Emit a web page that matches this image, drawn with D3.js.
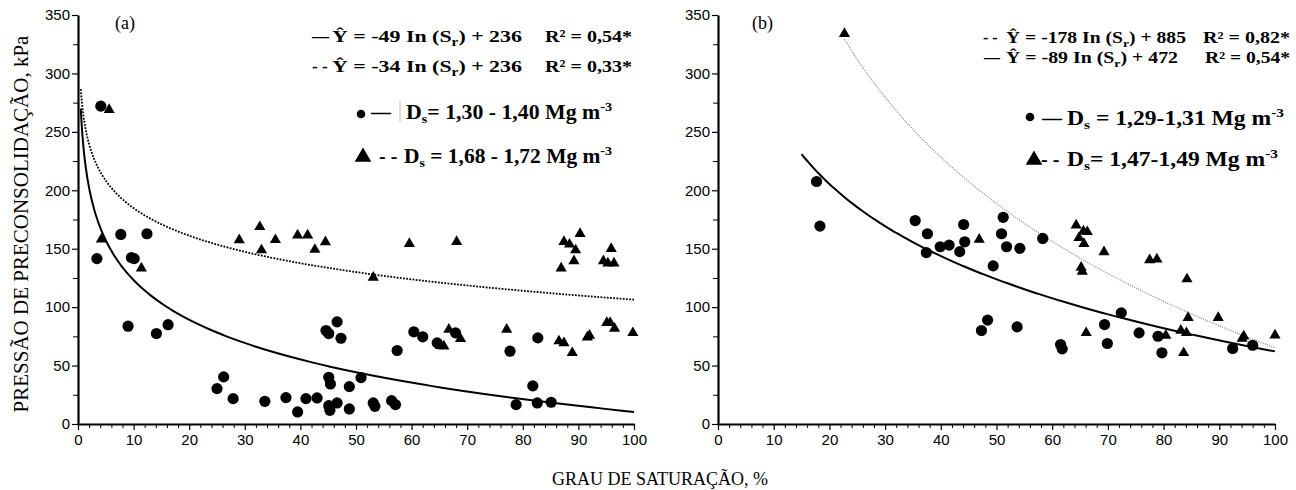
<!DOCTYPE html>
<html>
<head>
<meta charset="utf-8">
<script src="https://cdn.jsdelivr.net/npm/d3@7"></script>
<style>
  body { margin: 0; background: #fff; }
  svg { display: block; }
  .tick text { font-family: "Liberation Sans", Arial, sans-serif; font-size: 15px; fill: #000; }
  .serif { font-family: "Liberation Serif", "Times New Roman", serif; }
</style>
</head>
<body>
<svg id="chart"></svg>
<script>
const width = 1296;
const height = 490;

// tick labels
const xTickLabels = [0, 10, 20, 30, 40, 50, 60, 70, 80, 90, 100];
const yTickLabels = [0, 50, 100, 150, 200, 250, 300, 350];

// panel (a) - circles, Ds 1,30-1,40
const aCircleX = [4.1, 3.4, 7.7, 9.6, 10.1, 12.4, 9.0, 14.1, 16.2, 25.0, 26.2, 27.9, 33.6, 37.4, 39.5, 41.0, 43.0,
  44.6, 45.1, 45.1, 45.4, 45.1, 45.3, 46.6, 46.6, 47.3, 48.8, 48.8, 50.9, 53.1, 53.4, 56.4, 57.1, 57.4,
  60.4, 62.0, 64.6, 67.9, 77.7, 78.8, 81.8, 82.7, 82.6, 85.1];
const aCircleY = [272, 141.5, 162.2, 142.4, 141.5, 162.8, 83.7, 77.4, 85, 30.3, 40.3, 21.7, 19.4, 22.6, 10.3, 21.7, 22.3,
  80, 77.4, 40, 34.3, 15.7, 11.7, 87.4, 18, 73.4, 32, 12.9, 39.7, 18, 15.1, 20, 16.6, 62.9,
  78.9, 74.6, 69.4, 78, 62.3, 16.6, 32.6, 73.7, 18, 18.6];
// panel (a) - triangles, Ds 1,68-1,72
const aTriX = [5.6, 4.2, 11.4, 29.0, 32.7, 33.0, 35.5, 39.5, 41.3, 42.6, 44.5, 53.1, 59.6, 68.1,
  86.9, 87.4, 88.4, 89.5, 89.2, 90.3, 94.5, 95.9, 95.3, 96.4,
  65.2, 65.8, 66.7, 68.8, 77.1, 86.5, 87.4, 88.9, 91.6, 92.0, 95.1, 95.7, 96.5, 99.8];
const aTriY = [269, 158, 133.3, 157.4, 168.7, 148.8, 157.6, 161.6, 161.6, 149.2, 155.7, 125.4, 154.2, 156,
  133.3, 156, 153.7, 148.8, 139.5, 162.8, 139.5, 150, 137.6, 137.6,
  67, 66.6, 80.9, 72.9, 80.9, 70.9, 69.4, 60.9, 74.3, 75.7, 86.6, 86.6, 81.7, 78];

// panel (b) - circles, Ds 1,29-1,31
const bCircleX = [17.7, 18.3, 35.4, 37.6, 37.4, 39.9, 41.5, 43.4, 44.1, 44.3, 49.4, 51.2, 50.9, 51.8, 54.2, 58.3,
  47.3, 48.4, 53.7, 61.5, 61.8, 69.4, 69.9, 72.4, 75.6, 79.0, 79.7, 92.4, 96.0];
const bCircleY = [207.5, 169.3, 174.1, 162.8, 146.7, 151.7, 153.1, 147.5, 170.7, 155.9, 135.3, 176.9, 162.8, 151.7, 150.3, 158.8,
  80, 88.9, 83.1, 68, 64.3, 85.1, 68.9, 95.1, 78, 75.1, 60.9, 64.6, 67.4];
// panel (b) - triangles, Ds 1,47-1,49
const bTriX = [22.7, 46.9, 64.3, 64.8, 65.6, 66.3, 65.7, 65.2, 65.4, 69.3, 77.5, 78.8, 84.2,
  66.1, 80.4, 83.1, 84.1, 83.6, 84.4, 89.8, 94.4, 94.1, 100];
const bTriY = [334, 157.9, 170.1, 159.3, 165, 164.4, 154.2, 133.9, 130.5, 147.2, 140.4, 141, 124,
  78, 75.7, 80, 78, 60.9, 90.9, 90.9, 75.1, 73.1, 76];

// regression curves: [slope of ln, intercept, Sr from, Sr to]
const aFitSolid = [-49, 236, 0.5, 100];
const aFitDotted = [-34, 263, 0.5, 100];
const bFitSolid = [-89, 472, 15, 100];
const bFitDotted = [-178, 885, 22.7, 100];

const svg = d3.select('#chart')
  .attr('width', width)
  .attr('height', height);

const xScaleA = d3.scaleLinear().domain([0, 100]).range([78, 634]);
const xScaleB = d3.scaleLinear().domain([0, 100]).range([718, 1275]);
const yScale = d3.scaleLinear().domain([0, 350]).range([424, 15]);

const minorX = d3.range(0, 101, 2).filter((d) => d % 10 !== 0);
const minorY = d3.range(0, 351, 25).filter((d) => d % 50 !== 0);

const fitPoints = (fit) => {
  const pts = [];
  const n = 200;
  for (let i = 0; i <= n; i++) {
    const s = Math.exp(Math.log(fit[2]) + (Math.log(fit[3]) - Math.log(fit[2])) * i / n);
    pts.push([s, fit[0] * Math.log(s) + fit[1]]);
  }
  return pts;
};

const triangle = d3.symbol().type(d3.symbolTriangle).size(54);

const drawPanel = (x, circX, circY, triX, triY, fitSolid, fitDotted, dottedStyle) => {
  const g = svg.append('g');

  // minor ticks
  g.append('g')
    .attr('transform', `translate(0,${yScale(0)})`)
    .call(d3.axisBottom(x).tickValues(minorX).tickSize(4).tickFormat(''))
    .call((s) => s.select('.domain').remove());
  g.append('g')
    .attr('transform', `translate(${x(0)},0)`)
    .call(d3.axisLeft(yScale).tickValues(minorY).tickSize(5).tickFormat(''))
    .call((s) => s.select('.domain').remove());

  const xAxis = g.append('g')
    .attr('transform', `translate(0,${yScale(0)})`)
    .call(d3.axisBottom(x).tickValues(xTickLabels).tickSize(6).tickSizeOuter(0).tickPadding(4));
  const yAxis = g.append('g')
    .attr('transform', `translate(${x(0)},0)`)
    .call(d3.axisLeft(yScale).tickValues(yTickLabels).tickSize(6).tickSizeOuter(0).tickPadding(2));
  [xAxis, yAxis].forEach((a) => {
    a.select('.domain').attr('stroke-width', 2.2);
    a.selectAll('.tick line').attr('stroke-width', 1.2);
  });
  g.selectAll('.tick line').attr('stroke', '#000');

  const line = d3.line().x((d) => x(d[0])).y((d) => yScale(d[1]));

  g.append('path')
    .attr('d', line(fitPoints(fitDotted)))
    .attr('fill', 'none')
    .attr('stroke', dottedStyle.color)
    .attr('stroke-width', dottedStyle.width)
    .attr('stroke-dasharray', dottedStyle.dash);

  g.append('path')
    .attr('d', line(fitPoints(fitSolid)))
    .attr('fill', 'none')
    .attr('stroke', '#000')
    .attr('stroke-width', 2);

  g.append('g').selectAll('circle')
    .data(circX.map((d, i) => [d, circY[i]]))
    .enter()
    .append('circle')
    .attr('cx', (d) => x(d[0]))
    .attr('cy', (d) => yScale(d[1]))
    .attr('r', 5.6)
    .attr('fill', '#000');

  g.append('g').selectAll('path')
    .data(triX.map((d, i) => [d, triY[i]]))
    .enter()
    .append('path')
    .attr('d', triangle)
    .attr('transform', (d) => `translate(${x(d[0])},${yScale(d[1])})`)
    .attr('fill', '#000');

  return g;
};

drawPanel(xScaleA, aCircleX, aCircleY, aTriX, aTriY, aFitSolid, aFitDotted,
  { color: '#000', width: 1.8, dash: '1.8,1.4' });
drawPanel(xScaleB, bCircleX, bCircleY, bTriX, bTriY, bFitSolid, bFitDotted,
  { color: '#777', width: 1.1, dash: '1,1.3' });

// panel letters
svg.append('text').attr('class', 'serif').attr('x', 115).attr('y', 29)
  .attr('font-size', 18).text('(a)');
svg.append('text').attr('class', 'serif').attr('x', 752).attr('y', 29)
  .attr('font-size', 18).text('(b)');

// axis titles
svg.append('text').attr('class', 'serif')
  .attr('transform', 'translate(28,224) rotate(-90)')
  .attr('text-anchor', 'middle')
  .attr('font-size', 21)
  .text('PRESSÃO DE PRECONSOLIDAÇÃO, kPa');
svg.append('text').attr('class', 'serif')
  .attr('x', 660).attr('y', 485)
  .attr('text-anchor', 'middle')
  .attr('font-size', 18)
  .text('GRAU DE SATURAÇÃO, %');

// equation legends
const equation = (o) => {
  svg.append('text').attr('class', 'serif')
    .attr('x', o.keyX).attr('y', o.y)
    .attr('font-size', o.size).attr('font-weight', 'bold')
    .text(o.key);
  const t = svg.append('text').attr('class', 'serif')
    .attr('x', o.eqX).attr('y', o.y)
    .attr('font-size', o.size).attr('font-weight', 'bold')
    .attr('textLength', o.eqLen).attr('lengthAdjust', 'spacingAndGlyphs');
  t.append('tspan').text(`Ŷ = ${o.slope} In (S`);
  t.append('tspan').attr('font-size', o.size * 0.7).attr('dy', 4).text('r');
  t.append('tspan').attr('dy', -4).text(`) + ${o.icept}`);
  svg.append('text').attr('class', 'serif')
    .attr('x', o.r2X).attr('y', o.y)
    .attr('font-size', o.size).attr('font-weight', 'bold')
    .attr('textLength', o.r2Len).attr('lengthAdjust', 'spacingAndGlyphs')
    .text(`R² = ${o.r2}*`);
};

equation({ keyX: 312, y: 42, size: 17, key: '—', eqX: 332, eqLen: 190, slope: '-49', icept: '236', r2X: 545, r2Len: 87, r2: '0,54' });
equation({ keyX: 312, y: 72, size: 17, key: '- -', eqX: 332, eqLen: 190, slope: '-34', icept: '236', r2X: 545, r2Len: 87, r2: '0,33' });
equation({ keyX: 983, y: 43, size: 16, key: '- -', eqX: 1006, eqLen: 180, slope: '-178', icept: '885', r2X: 1203, r2Len: 87, r2: '0,82' });
equation({ keyX: 984, y: 63, size: 16, key: '—', eqX: 1006, eqLen: 172, slope: '-89', icept: '472', r2X: 1205, r2Len: 85, r2: '0,54' });

// density legends
const densityKey = (o) => {
  if (o.tri) {
    svg.append('path')
      .attr('d', d3.symbol().type(d3.symbolTriangle).size(120)())
      .attr('transform', `translate(${o.mx},${o.my})`)
      .attr('fill', '#000');
  } else {
    svg.append('circle').attr('cx', o.mx).attr('cy', o.my).attr('r', 4.3).attr('fill', '#000');
  }
  svg.append('text').attr('class', 'serif')
    .attr('x', o.keyX).attr('y', o.y)
    .attr('font-size', 20).attr('font-weight', 'bold')
    .text(o.key);
  const t = svg.append('text').attr('class', 'serif')
    .attr('x', o.textX).attr('y', o.y)
    .attr('font-size', 20).attr('font-weight', 'bold')
    .attr('textLength', o.len).attr('lengthAdjust', 'spacingAndGlyphs');
  t.append('tspan').text('D');
  t.append('tspan').attr('font-size', 13).attr('dy', 4).text('s');
  t.append('tspan').attr('dy', -4).text(o.label);
  t.append('tspan').attr('font-size', 13).attr('dy', -8).text('-3');
};

densityKey({ mx: 361, my: 114, tri: false, keyX: 371, key: '—', textX: 406, y: 119, len: 206, label: '= 1,30 - 1,40 Mg m' });
svg.append('line').attr('x1', 400).attr('x2', 400).attr('y1', 101).attr('y2', 122)
  .attr('stroke', '#aaa').attr('stroke-width', 0.8);
densityKey({ mx: 363, my: 157, tri: true, keyX: 379, key: '- -', textX: 404, y: 163, len: 208, label: ' = 1,68 - 1,72 Mg m' });
densityKey({ mx: 1030, my: 117, tri: false, keyX: 1042, key: '—', textX: 1067, y: 125, len: 217, label: ' = 1,29-1,31 Mg m' });
densityKey({ mx: 1034, my: 160, tri: true, keyX: 1041, key: '- -', textX: 1067, y: 166, len: 211, label: '= 1,47-1,49 Mg m' });
</script>
</body>
</html>
